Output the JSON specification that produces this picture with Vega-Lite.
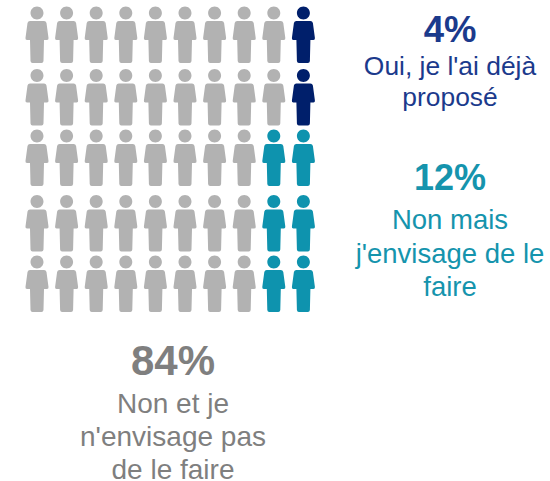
{"$schema":"https://vega.github.io/schema/vega-lite/v6.json","width":550,"height":481,"padding":0,"autosize":{"type":"none"},"background":"white","config":{"view":{"stroke":null}},
"datasets":{"people":[
{"row":1,"col":1,"g":"Non"},{"row":1,"col":2,"g":"Non"},{"row":1,"col":3,"g":"Non"},{"row":1,"col":4,"g":"Non"},{"row":1,"col":5,"g":"Non"},{"row":1,"col":6,"g":"Non"},{"row":1,"col":7,"g":"Non"},{"row":1,"col":8,"g":"Non"},{"row":1,"col":9,"g":"Non"},{"row":1,"col":10,"g":"Oui"},
{"row":2,"col":1,"g":"Non"},{"row":2,"col":2,"g":"Non"},{"row":2,"col":3,"g":"Non"},{"row":2,"col":4,"g":"Non"},{"row":2,"col":5,"g":"Non"},{"row":2,"col":6,"g":"Non"},{"row":2,"col":7,"g":"Non"},{"row":2,"col":8,"g":"Non"},{"row":2,"col":9,"g":"Non"},{"row":2,"col":10,"g":"Oui"},
{"row":3,"col":1,"g":"Non"},{"row":3,"col":2,"g":"Non"},{"row":3,"col":3,"g":"Non"},{"row":3,"col":4,"g":"Non"},{"row":3,"col":5,"g":"Non"},{"row":3,"col":6,"g":"Non"},{"row":3,"col":7,"g":"Non"},{"row":3,"col":8,"g":"Non"},{"row":3,"col":9,"g":"Mais"},{"row":3,"col":10,"g":"Mais"},
{"row":4,"col":1,"g":"Non"},{"row":4,"col":2,"g":"Non"},{"row":4,"col":3,"g":"Non"},{"row":4,"col":4,"g":"Non"},{"row":4,"col":5,"g":"Non"},{"row":4,"col":6,"g":"Non"},{"row":4,"col":7,"g":"Non"},{"row":4,"col":8,"g":"Non"},{"row":4,"col":9,"g":"Mais"},{"row":4,"col":10,"g":"Mais"},
{"row":5,"col":1,"g":"Non"},{"row":5,"col":2,"g":"Non"},{"row":5,"col":3,"g":"Non"},{"row":5,"col":4,"g":"Non"},{"row":5,"col":5,"g":"Non"},{"row":5,"col":6,"g":"Non"},{"row":5,"col":7,"g":"Non"},{"row":5,"col":8,"g":"Non"},{"row":5,"col":9,"g":"Mais"},{"row":5,"col":10,"g":"Mais"}],
"pct":[{"t":"4%","line":1,"block":2,"g":"Oui"},{"t":"12%","line":4,"block":2,"g":"Mais"},{"t":"84%","line":8,"block":1,"g":"Non"}],
"lab":[{"t":"Oui, je l'ai déjà","line":2,"block":2,"g":"Oui"},{"t":"proposé","line":3,"block":2,"g":"Oui"},{"t":"Non mais","line":5,"block":2,"g":"Mais"},{"t":"j'envisage de le","line":6,"block":2,"g":"Mais"},{"t":"faire","line":7,"block":2,"g":"Mais"},{"t":"Non et je","line":9,"block":1,"g":"Non"},{"t":"n'envisage pas","line":10,"block":1,"g":"Non"},{"t":"de le faire","line":11,"block":1,"g":"Non"}]},
"resolve":{"scale":{"x":"independent","y":"independent","color":"independent","size":"independent"}},
"layer":[
{"data":{"name":"people"},"mark":{"type":"point","filled":true,"opacity":1,"size":3136,"shape":"M-.232,-.786A.232,.232 0 1 1 .232,-.786A.232,.232 0 1 1 -.232,-.786ZM-.25,-.5H.25Q.321,-.5 .339,-.429L.411,.107Q.421,.179 .357,.179H.25L.232,.929Q.225,1 .161,1H-.161Q-.225,1 -.232,.929L-.25,.179H-.357Q-.421,.179 -.411,.107L-.339,-.429Q-.321,-.5 -.25,-.5Z"},
"encoding":{
"x":{"field":"col","type":"quantitative","axis":null,"scale":{"domain":[1,10],"range":[37,303.4],"zero":false,"nice":false}},
"xOffset":{"field":"row","type":"quantitative","scale":{"domain":[1,2,3,4,5],"range":[-1,1,0.5,2,2]}},
"y":{"field":"row","type":"quantitative","axis":null,"scale":{"domain":[1,2,3,4,5],"range":[35,97.5,158,223.5,284],"zero":false,"nice":false}},
"color":{"field":"g","type":"nominal","legend":null,"scale":{"domain":["Non","Mais","Oui"],"range":["#B2B2B2","#0E93AE","#001F6B"]}}}},
{"data":{"name":"pct"},"mark":{"type":"text","font":"Liberation Sans","fontWeight":"bold","align":"center","baseline":"alphabetic"},
"encoding":{"text":{"field":"t"},
"x":{"field":"block","type":"quantitative","axis":null,"scale":{"domain":[1,2],"range":[173,450],"zero":false,"nice":false}},
"y":{"field":"line","type":"quantitative","axis":null,"scale":{"domain":[1,4,8],"range":[41.5,190,375],"zero":false,"nice":false}},
"size":{"field":"g","type":"nominal","legend":null,"scale":{"type":"ordinal","domain":["Non","Mais","Oui"],"range":[42,36,36.5]}},
"color":{"field":"g","type":"nominal","legend":null,"scale":{"domain":["Non","Mais","Oui"],"range":["#7F7F7F","#1594AD","#1B3A8C"]}}}},
{"data":{"name":"lab"},"mark":{"type":"text","font":"Liberation Sans","align":"center","baseline":"alphabetic"},
"encoding":{"text":{"field":"t"},
"x":{"field":"block","type":"quantitative","axis":null,"scale":{"domain":[1,2],"range":[173,450],"zero":false,"nice":false}},
"y":{"field":"line","type":"quantitative","axis":null,"scale":{"domain":[2,3,5,6,7,9,10,11],"range":[75,106,229,263,296,412.5,446,479],"zero":false,"nice":false}},
"size":{"field":"g","type":"nominal","legend":null,"scale":{"type":"ordinal","domain":["Non","Mais","Oui"],"range":[28,27.5,26.4]}},
"color":{"field":"g","type":"nominal","legend":null,"scale":{"domain":["Non","Mais","Oui"],"range":["#7F7F7F","#1594AD","#1B3A8C"]}}}}
]}
